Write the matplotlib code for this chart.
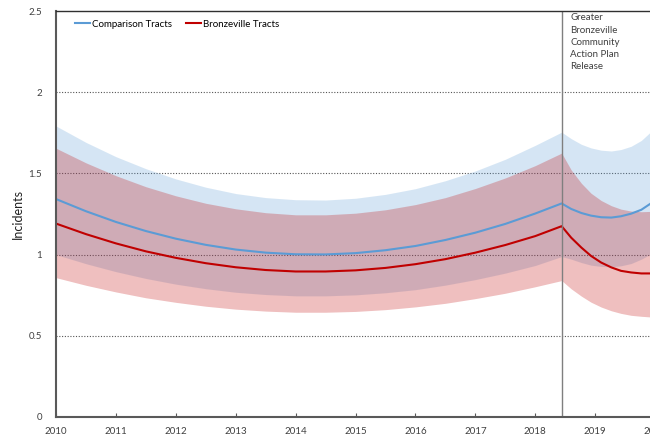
import numpy as np
import matplotlib
matplotlib.use("Agg")
import matplotlib.pyplot as plt

plt.rcParams['font.family'] = ['Lato', 'DejaVu Sans']

# decimal years of the sampled points (event at mid 2018)
years = [2010.0, 2010.5, 2011.0, 2011.5, 2012.0, 2012.5, 2013.0, 2013.5,
         2014.0, 2014.5, 2015.0, 2015.5, 2016.0, 2016.5, 2017.0, 2017.5,
         2018.0, 2018.44, 2018.60, 2018.77, 2018.93, 2019.10, 2019.27,
         2019.43, 2019.60, 2019.77, 2019.92, 2020.0]

comp_mean = [1.342, 1.267, 1.201, 1.145, 1.098, 1.060, 1.031, 1.012,
             1.002, 1.001, 1.009, 1.027, 1.053, 1.090, 1.135, 1.189,
             1.253, 1.315, 1.281, 1.256, 1.240, 1.230, 1.228,
             1.236, 1.252, 1.276, 1.313, 1.335]
comp_upper = [1.792, 1.691, 1.603, 1.529, 1.466, 1.415, 1.376, 1.351,
              1.338, 1.336, 1.347, 1.371, 1.406, 1.455, 1.515, 1.587,
              1.673, 1.754, 1.714, 1.679, 1.657, 1.643, 1.638,
              1.647, 1.667, 1.703, 1.754, 1.782]
comp_lower = [1.000, 0.944, 0.895, 0.853, 0.818, 0.790, 0.768, 0.754,
              0.746, 0.746, 0.752, 0.765, 0.784, 0.812, 0.846, 0.886,
              0.933, 0.988, 0.972, 0.951, 0.935, 0.927, 0.925,
              0.931, 0.945, 0.972, 1.002, 1.018]

bz_mean = [1.191, 1.126, 1.069, 1.020, 0.980, 0.947, 0.922, 0.905,
           0.896, 0.896, 0.903, 0.918, 0.941, 0.972, 1.012, 1.059,
           1.114, 1.175, 1.104, 1.043, 0.992, 0.951, 0.921,
           0.900, 0.890, 0.884, 0.884, 0.885]
bz_upper = [1.655, 1.565, 1.486, 1.418, 1.362, 1.316, 1.282, 1.258,
            1.245, 1.245, 1.255, 1.276, 1.308, 1.351, 1.407, 1.472,
            1.548, 1.625, 1.521, 1.439, 1.378, 1.333, 1.301,
            1.280, 1.268, 1.264, 1.266, 1.268]
bz_lower = [0.858, 0.811, 0.770, 0.734, 0.706, 0.682, 0.664, 0.652,
            0.645, 0.645, 0.650, 0.661, 0.678, 0.700, 0.729, 0.762,
            0.802, 0.840, 0.789, 0.744, 0.707, 0.677, 0.654,
            0.638, 0.626, 0.620, 0.616, 0.615]

event_year = 2018.44
event_label = "Greater\nBronzeville\nCommunity\nAction Plan\nRelease"
tick_years = list(range(2010, 2021))

blue = '#5B9BD5'
red = '#C00000'

fig = plt.figure(figsize=(6.5, 4.37), dpi=100)
# axes runs past the right edge, the reference is cropped there
ax = fig.add_axes([0.0862, 0.0458, 1.0138, 0.929])

ax.fill_between(years, comp_lower, comp_upper, color=blue, alpha=0.25, lw=0)
ax.fill_between(years, bz_lower, bz_upper, color=red, alpha=0.25, lw=0)
ax.plot(years, comp_mean, color=blue, lw=1.5, label='Comparison Tracts')
ax.plot(years, bz_mean, color=red, lw=1.5, label='Bronzeville Tracts')

ax.axvline(event_year, color='#7F7F7F', lw=1)
ax.text(event_year + 0.14, 2.485, event_label, va='top', ha='left',
        fontsize=7, color='#404040', linespacing=1.45)

for yv in [0.5, 1.0, 1.5, 2.0]:
    ax.axhline(yv, color='#555555', lw=0.8, ls=(0, (1, 1.5)), zorder=0.5)

ax.set_xlim(2010, 2021)
ax.set_ylim(0, 2.5)
ax.set_xticks(tick_years)
ax.set_xticklabels([str(y) for y in tick_years])
ax.set_yticks([0, 0.5, 1, 1.5, 2, 2.5])
ax.set_yticklabels(['0', '0.5', '1', '1.5', '2', '2.5'])
ax.tick_params(axis='x', direction='in', length=3, width=0.8, color='#595959',
               labelsize=7, labelcolor='#404040', pad=7)
ax.tick_params(axis='y', length=0, labelsize=7, labelcolor='#404040', pad=10)
ax.set_ylabel('Incidents', fontsize=9, color='#202020', labelpad=3)

for side in ['left', 'bottom']:
    ax.spines[side].set_color('#595959')
    ax.spines[side].set_linewidth(1.5)
ax.spines['top'].set_color('#303030')
ax.spines['top'].set_linewidth(1.0)
ax.spines['right'].set_visible(False)

ax.legend(loc='center left', bbox_to_anchor=(0.029, 0.968), ncol=2,
          frameon=False, fontsize=7, handlelength=1.5, handletextpad=0.2,
          columnspacing=1.5, borderpad=0, borderaxespad=0)

plt.savefig('out.png', dpi=100)
